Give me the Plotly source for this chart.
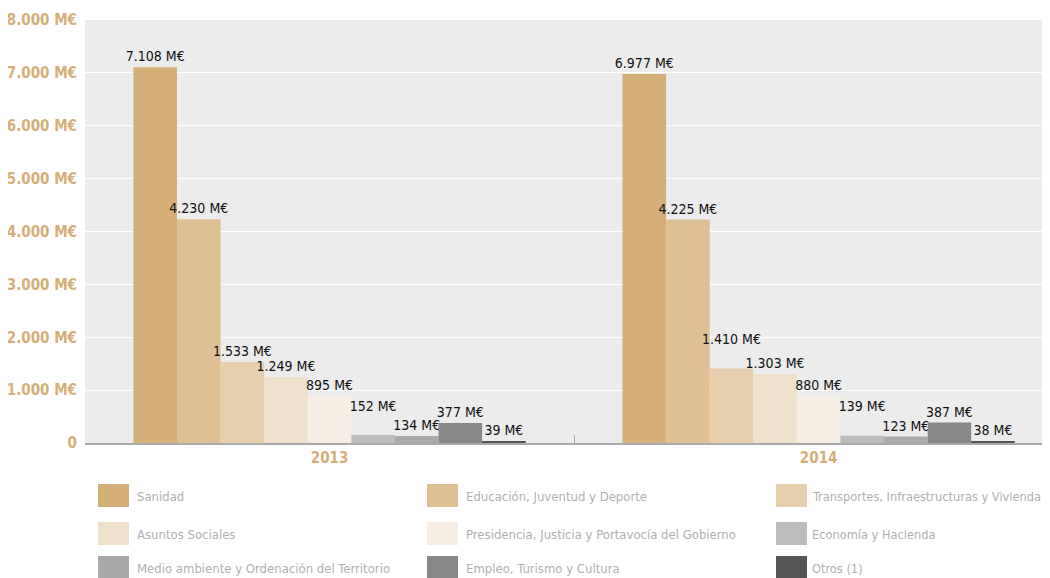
import plotly.graph_objects as go

years = ["2013", "2014"]
series_names = [
    "Sanidad",
    "Educación, Juventud y Deporte",
    "Transportes, Infraestructuras y Vivienda",
    "Asuntos Sociales",
    "Presidencia, Justicia y Portavocía del Gobierno",
    "Economía y Hacienda",
    "Medio ambiente y Ordenación del Territorio",
    "Empleo, Turismo y Cultura",
    "Otros (1)",
]
values_2013 = [7108, 4230, 1533, 1249, 895, 152, 134, 377, 39]
values_2014 = [6977, 4225, 1410, 1303, 880, 139, 123, 387, 38]
colors = ["#d4af77", "#dec094", "#e7cfae", "#eee0cb", "#f6eee4",
          "#bcbcbc", "#a9a9a9", "#888888", "#555555"]
tick_vals = [0, 1000, 2000, 3000, 4000, 5000, 6000, 7000, 8000]
tick_text = ["0", "1.000 M€", "2.000 M€", "3.000 M€", "4.000 M€",
             "5.000 M€", "6.000 M€", "7.000 M€", "8.000 M€"]

FONT = "DejaVu Sans Condensed, Roboto Condensed, Liberation Sans Narrow, Roboto, sans-serif"
GOLD = "#d4af77"

# labels raised by one line in the original to avoid collisions: (year index, series index)
raised_labels = {(1, 2), (0, 5), (1, 5)}

def fmt(v, raised):
    s = f"{v:,}".replace(",", ".") + " M€"
    return s + "<br> " if raised else s

fig = go.Figure()
for i, name in enumerate(series_names):
    vals = [values_2013[i], values_2014[i]]
    fig.add_trace(go.Bar(
        x=years, y=vals, name=name,
        marker=dict(color=colors[i], line=dict(width=0)),
        text=[fmt(v, (j, i) in raised_labels) for j, v in enumerate(vals)],
        textposition="outside", constraintext="none",
        textfont=dict(family=FONT, size=14, color="#111111"),
        cliponaxis=False, showlegend=False,
    ))

# page body has an 8px margin: figure is placed at (8, 8) in the window
OFF = 8
L, T, B, R = 85, 20, 443, 1050          # plot area in window pixels
W, H = 1050 - OFF, 578 - OFF
pw, ph = R - L, B - T

fig.update_layout(
    width=W, height=H,
    margin=dict(l=L - OFF, r=W - (R - OFF), t=T - OFF, b=H - (B - OFF)),
    paper_bgcolor="white", plot_bgcolor="#ececec",
    barmode="group", bargap=0.198, bargroupgap=0,
    font=dict(family=FONT),
    xaxis=dict(
        range=[-0.5, 1.473], tickson="boundaries", ticks="inside",
        ticklen=8, tickcolor="#aaaaaa", tickwidth=1,
        showline=True, linecolor="#aaaaaa", linewidth=2,
        tickfont=dict(family=FONT, size=15, color=GOLD, weight="bold"),
        showgrid=False, automargin=False,
    ),
    yaxis=dict(
        range=[0, 8000], tickvals=tick_vals, ticktext=tick_text,
        tickfont=dict(family=FONT, size=15, color=GOLD, weight="bold"),
        gridcolor="white", gridwidth=1, zeroline=False,
        ticks="", ticklabelstandoff=7, automargin=False,
    ),
)

# custom legend: 3 columns x 3 rows (window pixel positions)
col_px = [98, 427, 776]
col_gap = [37, 37, 34]
col_font = [13, 13, 12.7]
row_px = [496, 534, 568]
for i, name in enumerate(series_names):
    c = i % 3
    cx = col_px[c]
    cy = row_px[i // 3]
    x0 = (cx - L) / pw
    x1 = (cx + 31 - L) / pw
    y0 = (B - (cy + 11)) / ph
    y1 = (B - (cy - 12)) / ph
    fig.add_shape(type="rect", xref="paper", yref="paper",
                  x0=x0, x1=x1, y0=y0, y1=y1,
                  fillcolor=colors[i], line=dict(width=0))
    fig.add_annotation(xref="paper", yref="paper",
                       x=(cx + col_gap[c] - L) / pw, y=(B - cy) / ph,
                       text=name, showarrow=False, xanchor="left",
                       yanchor="middle",
                       font=dict(family=FONT, size=col_font[c], color="#b0b0b0"))

fig.write_html("out.html")
